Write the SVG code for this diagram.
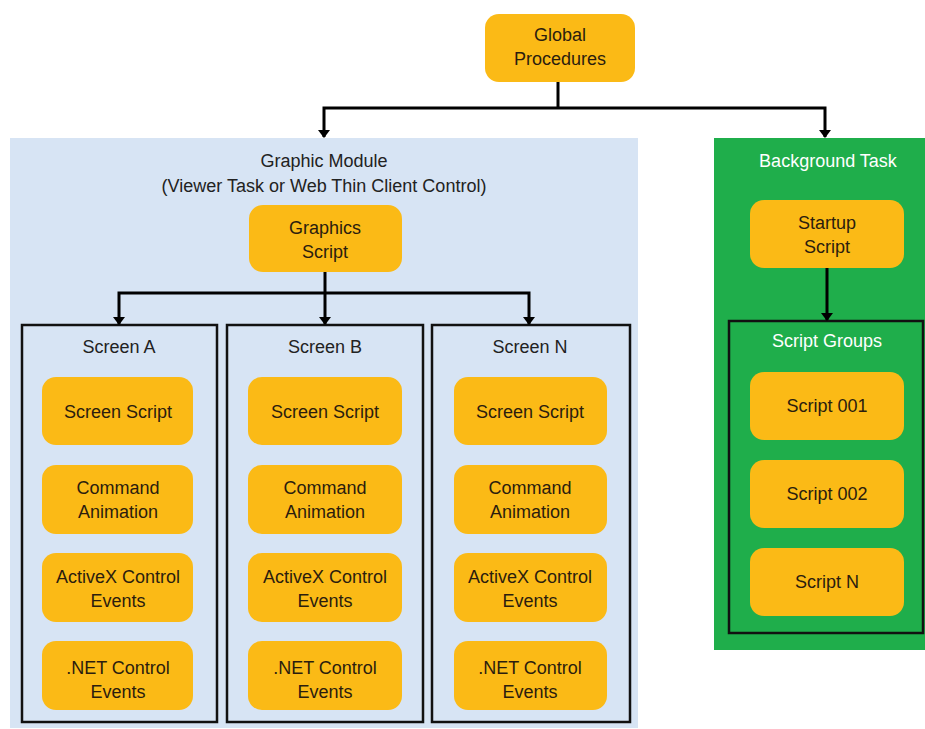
<svg xmlns="http://www.w3.org/2000/svg" width="925" height="729" viewBox="0 0 925 729">
<defs>
<style>
.n{fill:#FBBA16;}
.t{font-family:"Liberation Sans","Open Sans",sans-serif;font-size:18px;fill:#2b1d0e;text-anchor:middle;}
.h{font-family:"Liberation Sans","Open Sans",sans-serif;font-size:18px;fill:#222;text-anchor:middle;}
.w{font-family:"Liberation Sans","Open Sans",sans-serif;font-size:18px;fill:#ffffff;text-anchor:middle;}
.frame{fill:none;stroke:#111;stroke-width:2.5;}
.c{fill:none;stroke:#000;stroke-width:3;}
</style>
<marker id="ah" viewBox="0 0 8 12" refX="7" refY="6" markerWidth="2.8" markerHeight="4.2" orient="auto" markerUnits="strokeWidth">
<path d="M0,0 L8,6 L0,12 z" fill="#000"/>
</marker>
</defs>
<rect width="925" height="729" fill="#fff"/>
<g id="graphic-module">
<rect x="10" y="138" width="628" height="590" fill="#D7E4F4"/>
<text class="h" x="324" y="167">Graphic Module</text>
<text class="h" x="324" y="192">(Viewer Task or Web Thin Client Control)</text>
</g>
<g id="background-task">
<rect x="714" y="138" width="211" height="512" fill="#1FAE4B"/>
<text class="w" x="828" y="167">Background Task</text>
</g>
<g id="global-procedures">
<rect class="n" x="485" y="14" width="150" height="68" rx="14"/>
<text class="t" x="560" y="41">Global</text>
<text class="t" x="560" y="65">Procedures</text>
</g>
<g id="graphics-script">
<rect class="n" x="249" y="205" width="153" height="67" rx="14"/>
<text class="t" x="325" y="234">Graphics</text>
<text class="t" x="325" y="258">Script</text>
</g>
<g id="screen-a">
<rect class="frame" x="22" y="325" width="195" height="397"/>
<text class="h" x="119" y="353">Screen A</text>
<rect class="n" x="42" y="377" width="151" height="68" rx="14"/>
<text class="t" x="118" y="418">Screen Script</text>
<rect class="n" x="42" y="465" width="151" height="69" rx="14"/>
<text class="t" x="118" y="494">Command</text>
<text class="t" x="118" y="518">Animation</text>
<rect class="n" x="42" y="553" width="151" height="69" rx="14"/>
<text class="t" x="118" y="583">ActiveX Control</text>
<text class="t" x="118" y="607">Events</text>
<rect class="n" x="42" y="641" width="151" height="69" rx="14"/>
<text class="t" x="118" y="674">.NET Control</text>
<text class="t" x="118" y="698">Events</text>
</g>
<g id="screen-b">
<rect class="frame" x="227" y="325" width="196" height="397"/>
<text class="h" x="325" y="353">Screen B</text>
<rect class="n" x="248" y="377" width="154" height="68" rx="14"/>
<text class="t" x="325" y="418">Screen Script</text>
<rect class="n" x="248" y="465" width="154" height="69" rx="14"/>
<text class="t" x="325" y="494">Command</text>
<text class="t" x="325" y="518">Animation</text>
<rect class="n" x="248" y="553" width="154" height="69" rx="14"/>
<text class="t" x="325" y="583">ActiveX Control</text>
<text class="t" x="325" y="607">Events</text>
<rect class="n" x="248" y="641" width="154" height="69" rx="14"/>
<text class="t" x="325" y="674">.NET Control</text>
<text class="t" x="325" y="698">Events</text>
</g>
<g id="screen-n">
<rect class="frame" x="432" y="325" width="198" height="397"/>
<text class="h" x="530" y="353">Screen N</text>
<rect class="n" x="454" y="377" width="153" height="68" rx="14"/>
<text class="t" x="530" y="418">Screen Script</text>
<rect class="n" x="454" y="465" width="153" height="69" rx="14"/>
<text class="t" x="530" y="494">Command</text>
<text class="t" x="530" y="518">Animation</text>
<rect class="n" x="454" y="553" width="153" height="69" rx="14"/>
<text class="t" x="530" y="583">ActiveX Control</text>
<text class="t" x="530" y="607">Events</text>
<rect class="n" x="454" y="641" width="153" height="69" rx="14"/>
<text class="t" x="530" y="674">.NET Control</text>
<text class="t" x="530" y="698">Events</text>
</g>
<g id="startup-script">
<rect class="n" x="750" y="200" width="154" height="68" rx="14"/>
<text class="t" x="827" y="229">Startup</text>
<text class="t" x="827" y="253">Script</text>
</g>
<g id="script-groups">
<rect class="frame" x="729" y="321" width="194" height="312"/>
<text class="w" x="827" y="347">Script Groups</text>
<rect class="n" x="750" y="372" width="154" height="68" rx="14"/>
<text class="t" x="827" y="412">Script 001</text>
<rect class="n" x="750" y="460" width="154" height="68" rx="14"/>
<text class="t" x="827" y="500">Script 002</text>
<rect class="n" x="750" y="548" width="154" height="68" rx="14"/>
<text class="t" x="827" y="588">Script N</text>
</g>
<g id="connectors">
<path class="c" d="M558,82 V108"/>
<path class="c" d="M558,108 H324 V137" marker-end="url(#ah)"/>
<path class="c" d="M558,108 H825 V137" marker-end="url(#ah)"/>
<path class="c" d="M325,272 V293"/>
<path class="c" d="M325,293 H119 V324" marker-end="url(#ah)"/>
<path class="c" d="M325,293 V324" marker-end="url(#ah)"/>
<path class="c" d="M325,293 H529 V324" marker-end="url(#ah)"/>
<path class="c" d="M827,268 V320" marker-end="url(#ah)"/>
</g>
</svg>
